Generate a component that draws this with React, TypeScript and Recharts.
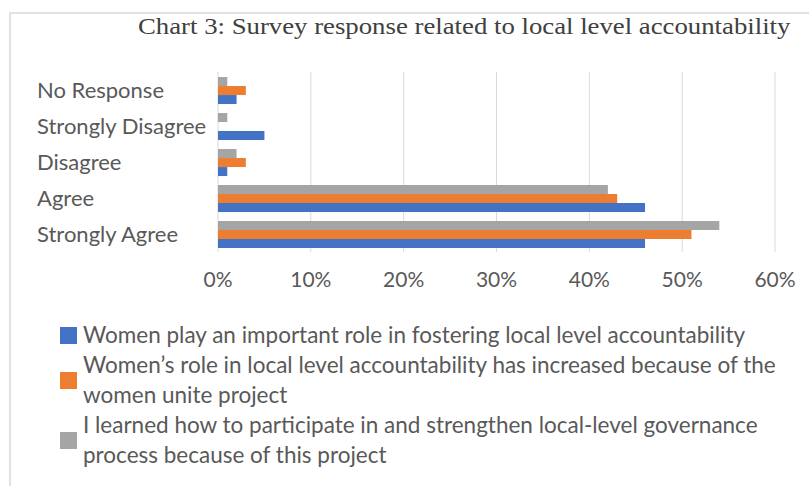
import React from "react";
import { BarChart, Bar, XAxis, YAxis, CartesianGrid } from "recharts";

const categories = ["No Response", "Strongly Disagree", "Disagree", "Agree", "Strongly Agree"];
const seriesImportantRole = [2, 5, 1, 46, 46];
const seriesRoleIncreased = [3, 0, 3, 43, 51];
const seriesLearned = [1, 1, 2, 42, 54];
const xTicks = [0, 10, 20, 30, 40, 50, 60];

const seriesNames = [
  "Women play an important role in fostering local level accountability",
  "Women\u2019s role in local level accountability has increased because of the women unite project",
  "I learned how to participate in and strengthen local-level governance process because of this project",
];
const legendLines = [
  ["Women play an important role in fostering local level accountability"],
  ["Women\u2019s role in local level accountability has increased because of the", "women unite project"],
  ["I learned how to participate in and strengthen local-level governance", "process because of this project"],
];
const colors = ["#4472C4", "#ED7D31", "#A5A5A5"];

const data = categories.map((c, i) => ({
  category: c,
  a: seriesImportantRole[i],
  b: seriesRoleIncreased[i],
  c: seriesLearned[i],
}));

const FONT = "Lato, 'Open Sans', sans-serif";
const TEXT = "#595959";

const YTick = (props: any) => {
  const { y, payload } = props;
  return (
    <text x={37} y={y} dy="0.36em" textAnchor="start" fill={TEXT} fontSize={22} fontFamily={FONT}>
      {payload.value}
    </text>
  );
};

export default function App() {
  return (
    <div style={{ position: "absolute", left: 0, top: 0, width: 809, height: 486, background: "#fff", overflow: "hidden" }}>
      <div style={{ position: "absolute", left: 9, top: 12, width: 820, height: 480, borderTop: "2px solid #e2e2e2", borderLeft: "2px solid #e2e2e2" }} />
      <div
        style={{
          position: "absolute",
          left: 138,
          top: 13,
          fontFamily: "'Liberation Serif', 'Times New Roman', serif",
          fontSize: 24,
          color: "#404040",
          whiteSpace: "nowrap",
          transform: "scaleX(1.115)",
          transformOrigin: "left top",
        }}
      >
        Chart 3: Survey response related to local level accountability
      </div>
      <div style={{ position: "absolute", left: 0, top: 0 }}>
        <BarChart
          width={809}
          height={300}
          data={data}
          layout="vertical"
          margin={{ top: 72, right: 34, left: 0, bottom: 0 }}
          barCategoryGap="14%"
          barGap={0}
        >
          <CartesianGrid horizontal={false} stroke="#d9d9d9" />
          <XAxis
            type="number"
            domain={[0, 60]}
            ticks={xTicks}
            tickFormatter={(v: number) => `${v}%`}
            axisLine={false}
            tickLine={false}
            tickMargin={14}
            height={48}
            tick={{ fill: TEXT, fontSize: 21, fontFamily: FONT }}
            interval={0}
          />
          <YAxis
            type="category"
            dataKey="category"
            width={218}
            axisLine={false}
            tickLine={false}
            tick={<YTick />}
            interval={0}
          />
          <Bar dataKey="c" name={seriesNames[2]} fill={colors[2]} isAnimationActive={false} />
          <Bar dataKey="b" name={seriesNames[1]} fill={colors[1]} isAnimationActive={false} />
          <Bar dataKey="a" name={seriesNames[0]} fill={colors[0]} isAnimationActive={false} />
        </BarChart>
      </div>
      <div style={{ position: "absolute", left: 60, top: 320, fontFamily: FONT, fontSize: 22.5, color: TEXT }}>
        {legendLines.map((lines, i) => (
          <div key={i} style={{ display: "flex", alignItems: "center", lineHeight: "30px" }}>
            <div style={{ width: 17, height: 17, background: colors[i], marginRight: 6, flex: "none" }} />
            <div>
              {lines.map((l, j) => (
                <div key={j} style={{ whiteSpace: "nowrap" }}>{l}</div>
              ))}
            </div>
          </div>
        ))}
      </div>
    </div>
  );
}
